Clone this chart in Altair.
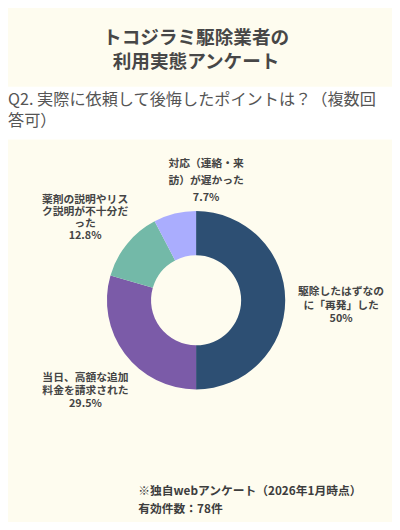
import altair as alt
import pandas as pd

# chart content
title_lines = ["トコジラミ駆除業者の", "利用実態アンケート"]
question_lines = ["Q2. 実際に依頼して後悔したポイントは？（複数回", "答可）"]
reasons = [
    "駆除したはずなのに「再発」した",
    "当日、高額な追加料金を請求された",
    "薬剤の説明やリスク説明が不十分だった",
    "対応（連絡・来訪）が遅かった",
]
label_lines = [
    ["駆除したはずなの", "に「再発」した"],
    ["当日、高額な追加", "料金を請求された"],
    ["薬剤の説明やリス", "ク説明が不十分だ", "った"],
    ["対応（連絡・来", "訪）が遅かった"],
]
percents = [50.0, 29.5, 12.8, 7.7]
pct_labels = ["50%", "29.5%", "12.8%", "7.7%"]
colors = ["#2D4F73", "#7B5BA8", "#73B9A8", "#AAADFE"]
note_lines = ["※独自webアンケート（2026年1月時点）", "有効件数：78件"]

W, H = 392, 514
CX, CY = 192, 293
BG = "#FEFCEF"
FONT = "Noto Sans CJK JP"
total = sum(percents)

df = pd.DataFrame(
    {
        "reason": reasons,
        "value": percents,
        "order": list(range(len(reasons))),
        "label": ["\n".join(l + [p]) for l, p in zip(label_lines, pct_labels)],
    }
)

# white band behind the question
band = alt.Chart(pd.DataFrame({"a": [0]})).mark_rect(color="#FFFFFF").encode(
    x=alt.value(0), x2=alt.value(W), y=alt.value(75), y2=alt.value(129)
)

title = alt.Chart(pd.DataFrame({"t": ["\n".join(title_lines)]})).mark_text(
    font=FONT, fontSize=19, fontWeight="bold", color="#474747",
    align="center", baseline="middle", lineBreak="\n", lineHeight=25,
).encode(x=alt.value(CX), y=alt.value(25), text="t:N")

question = alt.Chart(pd.DataFrame({"t": ["\n".join(question_lines)]})).mark_text(
    font=FONT, fontSize=16.5, color="#555555",
    align="left", baseline="middle", lineBreak="\n", lineHeight=21,
).encode(x=alt.value(0), y=alt.value(89), text="t:N")

donut = alt.Chart(df).mark_arc(innerRadius=46, outerRadius=91).encode(
    theta=alt.Theta("value:Q", stack=True),
    order=alt.Order("order:Q"),
    color=alt.Color("reason:N", scale=alt.Scale(domain=reasons, range=colors), legend=None),
    x=alt.value(CX),
    y=alt.value(CY),
)

# label nudges (dx, dy, line height) per slice
nudges = [(3, -8, 13.5), (3, -8, 13.5), (-1, -11, 12.5), (45, 2, 17)]

labels = []
for i, (dx, dy, lh) in enumerate(nudges):
    labels.append(
        alt.Chart(df)
        .transform_window(cum="sum(value)", sort=[alt.SortField("order")], frame=[None, 0])
        .transform_calculate(mid="datum.cum - datum.value / 2")
        .transform_filter(alt.datum.order == i)
        .mark_text(
            radius=145, dx=dx, dy=dy, font=FONT, fontSize=11, fontWeight="bold",
            color="#444444", align="center", baseline="middle",
            lineBreak="\n", lineHeight=lh,
        )
        .encode(
            theta=alt.Theta("mid:Q", scale=alt.Scale(domain=[0, total])),
            text="label:N",
            x=alt.value(CX),
            y=alt.value(CY),
        )
    )

note = alt.Chart(pd.DataFrame({"t": ["\n".join(note_lines)]})).mark_text(
    font=FONT, fontSize=12, fontWeight="bold", color="#3D3D3D",
    align="left", baseline="middle", lineBreak="\n", lineHeight=18,
).encode(x=alt.value(133), y=alt.value(488), text="t:N")

chart = (
    alt.layer(band, title, question, donut, *labels, note)
    .resolve_scale(theta="independent")
    .properties(
        width=W, height=H, background=BG, padding=0,
        autosize=alt.AutoSizeParams(type="none"),
    )
    .configure_view(stroke=None)
)

chart.save("out.html", embed_options={"renderer": "svg", "actions": False})
